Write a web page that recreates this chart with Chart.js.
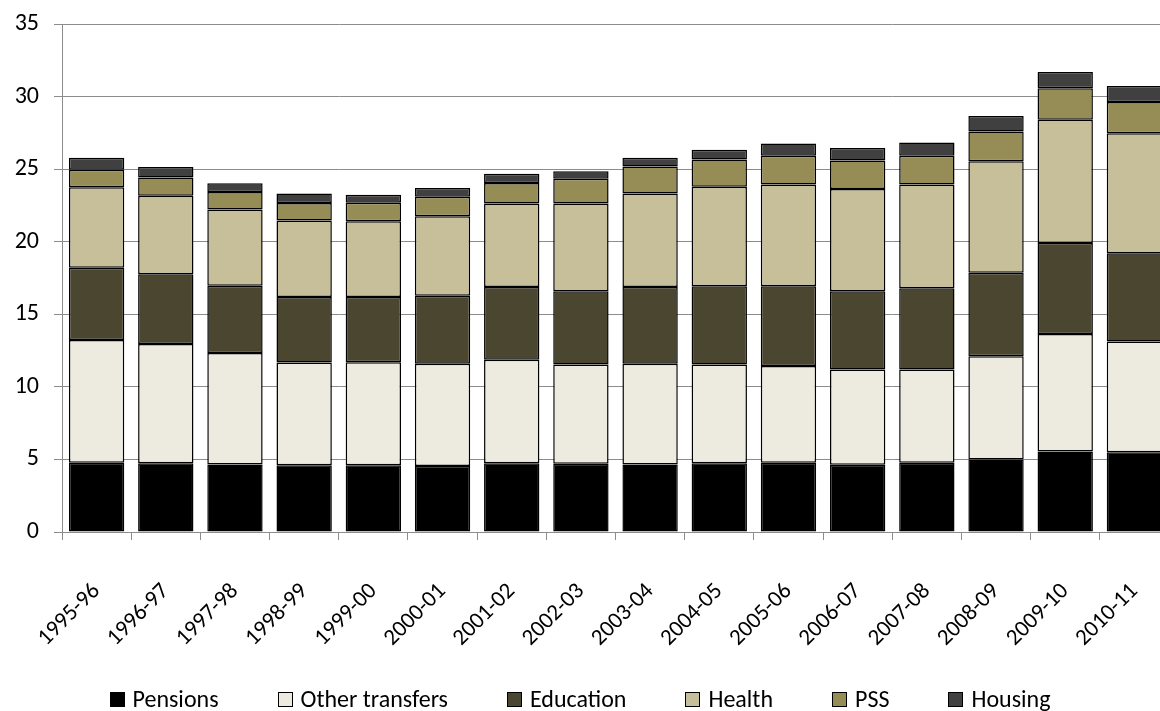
<!DOCTYPE html>
<html>
<head>
<meta charset="utf-8">
<script src="https://cdn.jsdelivr.net/npm/chart.js@4/dist/chart.umd.min.js"></script>
<style>
  html, body { margin: 0; padding: 0; background: #fff; }
  #wrap { position: relative; width: 1160px; height: 711px; overflow: hidden; }
  #myChart { position: absolute; left: 0; top: 0; }
  #legend {
    position: absolute; left: 0; top: 685px; width: 1160px;
    display: flex; justify-content: center; gap: 59px;
    font-family: Carlito, Lato, sans-serif; font-size: 24px; line-height: 28px; color: #000;
  }
  #legend .item { display: flex; align-items: center; white-space: nowrap; }
  #legend .box { width: 13px; height: 13px; border: 1px solid #000; margin-right: 8px; }
</style>
</head>
<body>
<div id="wrap">
  <canvas id="myChart" width="1169" height="711"></canvas>
  <div id="legend"></div>
</div>
<script>
var years = ['1995-96', '1996-97', '1997-98', '1998-99', '1999-00', '2000-01',
             '2001-02', '2002-03', '2003-04', '2004-05', '2005-06', '2006-07',
             '2007-08', '2008-09', '2009-10', '2010-11'];

// spending by area, per cent
var pensions  = [4.77, 4.73, 4.65, 4.60, 4.60, 4.55, 4.73, 4.70, 4.65, 4.73, 4.77, 4.63, 4.77, 5.00, 5.54, 5.49];
var transfers = [8.45, 8.22, 7.68, 7.07, 7.09, 7.04, 7.13, 6.84, 6.94, 6.81, 6.67, 6.57, 6.43, 7.11, 8.10, 7.63];
var education = [4.99, 4.80, 4.63, 4.52, 4.50, 4.68, 5.02, 5.05, 5.29, 5.39, 5.49, 5.39, 5.59, 5.76, 6.28, 6.08];
var health    = [5.54, 5.41, 5.26, 5.27, 5.22, 5.49, 5.76, 6.05, 6.45, 6.85, 7.02, 7.04, 7.16, 7.68, 8.48, 8.27];
var pss       = [1.21, 1.26, 1.21, 1.21, 1.28, 1.33, 1.41, 1.70, 1.85, 1.89, 1.97, 1.97, 1.97, 2.04, 2.17, 2.15];
var housing   = [0.83, 0.73, 0.59, 0.66, 0.54, 0.61, 0.64, 0.52, 0.61, 0.67, 0.84, 0.86, 0.91, 1.08, 1.13, 1.10];

var names  = ['Pensions', 'Other transfers', 'Education', 'Health', 'PSS', 'Housing'];
var colors = ['#000000', '#edebe0', '#4a4630', '#c6bf99', '#968c56', '#404040'];
var yTicks = [0, 5, 10, 15, 20, 25, 30, 35];

var series = [pensions, transfers, education, health, pss, housing];
var font = 'Carlito, Lato, sans-serif';

var chartData = {
  labels: years,
  datasets: series.map(function(d, i) {
    return {
      label: names[i],
      data: d,
      backgroundColor: colors[i],
      borderColor: '#000',
      borderWidth: 1.5,
      borderSkipped: false,
      categoryPercentage: 1,
      barPercentage: 0.8
    };
  })
};

var options = {
  responsive: false,
  animation: false,
  devicePixelRatio: 1,
  layout: { padding: { top: 24, right: 0, bottom: 0, left: 0 } },
  plugins: { legend: { display: false }, tooltip: { enabled: false } },
  scales: {
    x: {
      stacked: true,
      grid: { drawOnChartArea: false, drawTicks: true, tickLength: 8, color: '#8c8c8c', offset: true },
      border: { color: '#8c8c8c', width: 1 },
      ticks: { color: '#000', font: { family: font, size: 23 }, minRotation: 45, maxRotation: 45, padding: 38, autoSkip: false },
      afterFit: function(s) { s.height = 179; s.paddingLeft = 0; s.paddingRight = 0; }
    },
    y: {
      stacked: true,
      min: 0, max: 35,
      afterBuildTicks: function(s) { s.ticks = yTicks.map(function(v) { return { value: v }; }); },
      grid: { color: '#8c8c8c', tickLength: 8 },
      border: { color: '#8c8c8c', width: 1 },
      ticks: { color: '#000', font: { family: font, size: 24 }, padding: 15 },
      afterFit: function(s) { s.width = 62; s.paddingTop = 0; s.paddingBottom = 0; }
    }
  }
};

var ctx = document.getElementById('myChart').getContext('2d');
var myBarChart = new Chart(ctx, { type: 'bar', data: chartData, options: options });

// legend row under the axis labels
var leg = document.getElementById('legend');
names.forEach(function(n, i) {
  var it = document.createElement('span');
  it.className = 'item';
  it.innerHTML = '<span class="box" style="background:' + colors[i] + '"></span>' + n;
  leg.appendChild(it);
});
</script>
</body>
</html>
